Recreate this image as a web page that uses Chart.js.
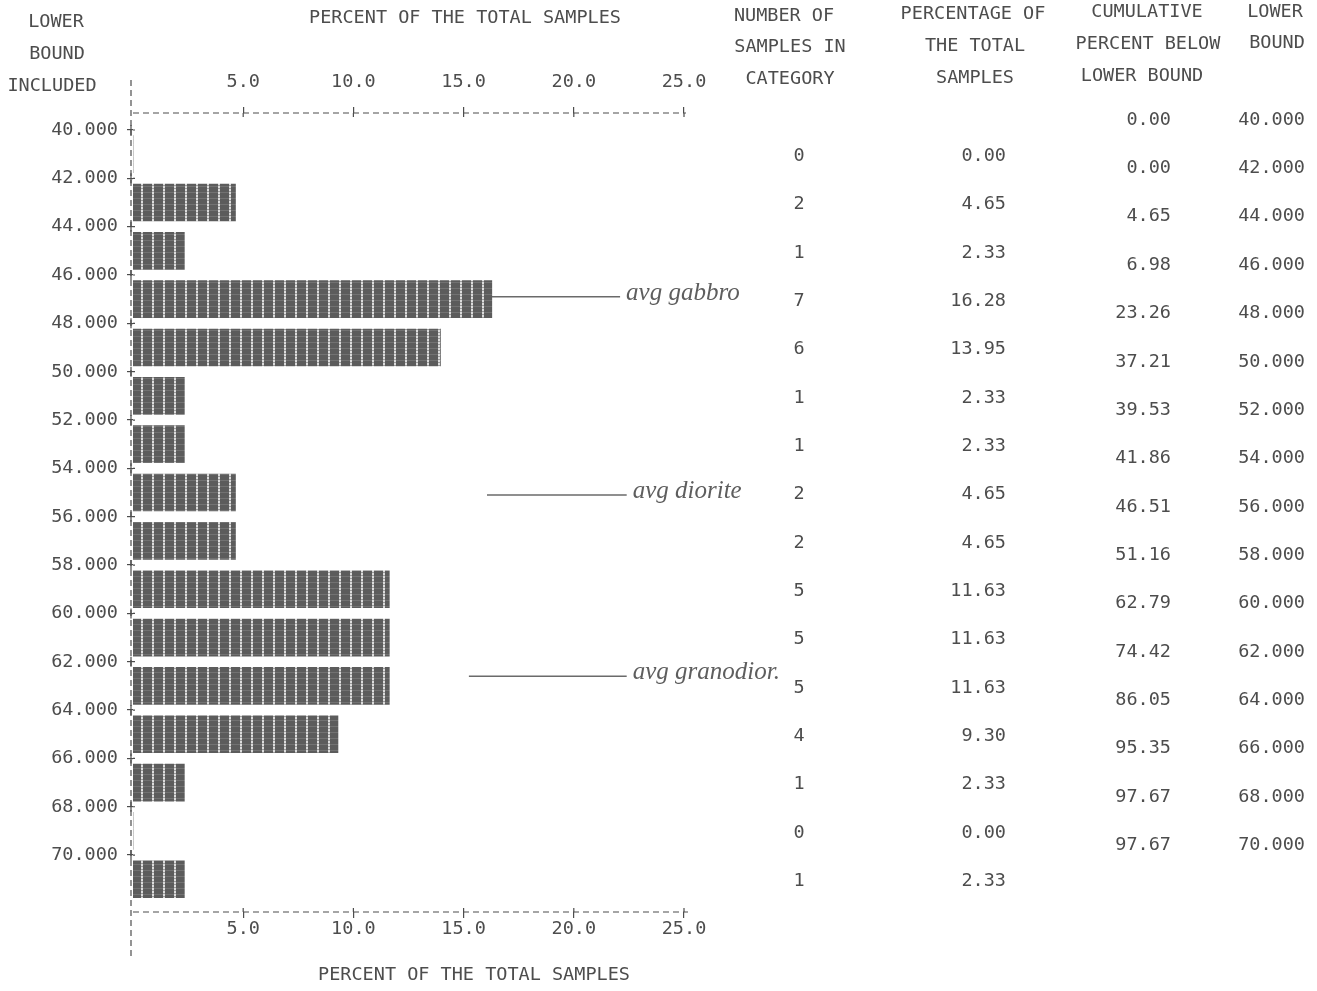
<!DOCTYPE html>
<html>
<head>
<meta charset="utf-8">
<script src="https://cdn.jsdelivr.net/npm/chart.js@4.4.1/dist/chart.umd.min.js"></script>
<style>
html,body{margin:0;padding:0;background:#ffffff;}
#wrap{width:1317px;height:991px;position:relative;}
canvas{display:block;}
</style>
</head>
<body>
<div id="wrap"><canvas id="c" width="1317" height="991"></canvas></div>
<script>
// ---------- DATA ----------
const lowerBounds      = [40, 42, 44, 46, 48, 50, 52, 54, 56, 58, 60, 62, 64, 66, 68, 70];
const sampleCounts     = [0, 2, 1, 7, 6, 1, 1, 2, 2, 5, 5, 5, 4, 1, 0, 1];
const percentOfTotal   = [0.00, 4.65, 2.33, 16.28, 13.95, 2.33, 2.33, 4.65, 4.65, 11.63, 11.63, 11.63, 9.30, 2.33, 0.00, 2.33];
const cumulativeBelow  = [0.00, 0.00, 4.65, 6.98, 23.26, 37.21, 39.53, 41.86, 46.51, 51.16, 62.79, 74.42, 86.05, 95.35, 97.67, 97.67];
const xTickValues      = [5, 10, 15, 20, 25];
const yTickValues      = [40, 42, 44, 46, 48, 50, 52, 54, 56, 58, 60, 62, 64, 66, 68, 70];
const xTitle           = 'PERCENT OF THE TOTAL SAMPLES';
const noteLabels       = ['avg gabbro', 'avg diorite', 'avg granodior.'];
const noteLevels       = [46.9, 55.1, 62.6];
const noteStarts       = [16.28, 16.06, 15.24];
const noteEnds         = [22.1, 22.4, 22.4];

// ---------- STYLE ----------
const INK = '#4d4d4d';
const MONO = '"DejaVu Sans Mono", monospace';
const FONT_PX = 18.5;

function barPattern() {
  const p = document.createElement('canvas');
  p.width = 11; p.height = 6;
  const g = p.getContext('2d');
  g.fillStyle = '#5c5c5c';
  g.fillRect(0, 0, 11, 6);
  g.fillStyle = '#727272';
  g.fillRect(0, 0, 11, 1);
  g.fillStyle = '#dcdcdc';
  g.fillRect(9, 0, 2, 2);
  g.fillRect(9, 3, 2, 2);
  g.fillStyle = '#9a9a9a';
  g.fillRect(9, 2, 2, 1);
  g.fillRect(9, 5, 2, 1);
  return g.createPattern(p, 'repeat');
}

const barData = lowerBounds.map((b, i) => ({ y: b + 1, x: percentOfTotal[i] }));
const noteDatasets = noteLabels.map((lab, i) => ({
  type: 'line',
  label: lab,
  indexAxis: 'y',
  data: [{ x: noteStarts[i], y: noteLevels[i] }, { x: noteEnds[i], y: noteLevels[i] }],
  borderColor: '#6a6a6a',
  borderWidth: 1.6,
  pointRadius: 0,
  fill: false,
  xAxisID: 'x',
  yAxisID: 'y',
  clip: false
}));

// ---------- PLUGIN: dashed axes, "+" marks, header texts, table, notes ----------
const printout = {
  id: 'printout',
  afterDraw(chart) {
    const { ctx, chartArea, scales } = chart;
    const y = scales.y;
    ctx.save();

    // dashed axis lines (printer style)
    ctx.strokeStyle = INK;
    ctx.lineWidth = 1.2;
    ctx.setLineDash([6, 4]);
    ctx.beginPath();
    ctx.moveTo(chartArea.left - 2, 80); ctx.lineTo(chartArea.left - 2, 958);
    ctx.moveTo(chartArea.left, chartArea.top); ctx.lineTo(chartArea.right + 2, chartArea.top);
    ctx.moveTo(chartArea.left, chartArea.bottom); ctx.lineTo(chartArea.right + 4, chartArea.bottom);
    ctx.stroke();
    ctx.setLineDash([]);

    // inner halves of the "+" tick marks
    ctx.beginPath();
    scales.x.ticks.forEach(t => {
      const px = scales.x.getPixelForValue(t.value);
      ctx.moveTo(px, chartArea.top); ctx.lineTo(px, chartArea.top + 4);
    });
    scales.x2.ticks.forEach(t => {
      const px = scales.x2.getPixelForValue(t.value);
      ctx.moveTo(px, chartArea.bottom); ctx.lineTo(px, chartArea.bottom - 4);
    });
    y.ticks.forEach(t => {
      const py = y.getPixelForValue(t.value);
      ctx.moveTo(chartArea.left, py); ctx.lineTo(chartArea.left + 2, py);
      ctx.moveTo(chartArea.left - 2, py - 5); ctx.lineTo(chartArea.left - 2, py + 5);
    });
    ctx.stroke();

    ctx.fillStyle = INK;
    ctx.font = FONT_PX + 'px ' + MONO;
    ctx.textBaseline = 'middle';
    const centered = (t, cx, cy) => { ctx.textAlign = 'center'; ctx.fillText(t, cx, cy); };

    // left header
    centered('LOWER', 56, 22);
    centered('BOUND', 57, 54);
    centered('INCLUDED', 52, 86);
    // axis titles
    centered(xTitle, 465, 18);
    centered(xTitle, 474, 975);
    // table headers
    centered('NUMBER OF', 784, 16);
    centered('SAMPLES IN', 790, 47);
    centered('CATEGORY', 790, 79);
    centered('PERCENTAGE OF', 973, 14);
    centered('THE TOTAL', 975, 46);
    centered('SAMPLES', 975, 78);
    centered('CUMULATIVE', 1147, 12);
    centered('PERCENT BELOW', 1148, 44);
    centered('LOWER BOUND', 1142, 76);
    centered('LOWER', 1275, 12);
    centered('BOUND', 1277, 43);

    // table rows
    lowerBounds.forEach((b, i) => {
      const pyMid = y.getPixelForValue(b + 1) + 2;
      ctx.textAlign = 'center';
      ctx.fillText(String(sampleCounts[i]), 799, pyMid);
      ctx.textAlign = 'right';
      ctx.fillText(percentOfTotal[i].toFixed(2), 1006, pyMid);
      const pyB = y.getPixelForValue(b) - 10;
      ctx.fillText(cumulativeBelow[i].toFixed(2), 1171, pyB);
      ctx.fillText(b.toFixed(3), 1305, pyB);
    });

    // handwritten notes
    ctx.fillStyle = '#5e5e5e';
    ctx.font = 'italic 25px "Liberation Serif", serif';
    ctx.textAlign = 'left';
    ctx.textBaseline = 'alphabetic';
    const xs = scales.x;
    noteLabels.forEach((lab, i) => {
      const px = xs.getPixelForValue(noteEnds[i]) + 6;
      const py = y.getPixelForValue(noteLevels[i]) + 3;
      ctx.fillText(lab, px, py);
    });
    ctx.restore();
  }
};

const tickFont = { family: MONO, size: FONT_PX };
const gridOpts = { drawOnChartArea: false, drawTicks: true, tickLength: 6, color: INK, lineWidth: 1.2, offset: false };

new Chart(document.getElementById('c').getContext('2d'), {
  type: 'bar',
  data: {
    datasets: [
      {
        type: 'bar',
        label: 'Percent of the total samples',
        data: barData,
        indexAxis: 'y',
        backgroundColor: barPattern(),
        borderWidth: 0,
        barThickness: 37,
        xAxisID: 'x',
        yAxisID: 'y'
      },
      ...noteDatasets
    ]
  },
  options: {
    indexAxis: 'y',
    responsive: false,
    animation: false,
    events: [],
    layout: { padding: { left: 0, top: 0, right: 633, bottom: 0 } },
    plugins: { legend: { display: false }, tooltip: { enabled: false }, title: { display: false } },
    scales: {
      x: {
        type: 'linear', position: 'top', min: 0, max: 25, offset: false,
        afterBuildTicks: s => { s.ticks = xTickValues.map(v => ({ value: v })); },
        afterFit: s => { s.height = 113; },
        ticks: { callback: v => Number(v).toFixed(1), font: tickFont, color: INK, padding: 14, maxRotation: 0, autoSkip: false },
        grid: gridOpts,
        border: { display: false }
      },
      x2: {
        type: 'linear', position: 'bottom', min: 0, max: 25, offset: false,
        afterBuildTicks: s => { s.ticks = xTickValues.map(v => ({ value: v })); },
        afterFit: s => { s.height = 79; },
        ticks: { callback: v => Number(v).toFixed(1), font: tickFont, color: INK, padding: 0, maxRotation: 0, autoSkip: false },
        grid: gridOpts,
        border: { display: false }
      },
      y: {
        type: 'linear', position: 'left', reverse: true, min: 39.297, max: 72.355, offset: false,
        afterBuildTicks: s => { s.ticks = yTickValues.map(v => ({ value: v })); },
        afterFit: s => { s.width = 133; },
        ticks: { callback: v => Number(v).toFixed(3), font: tickFont, color: INK, padding: 9, autoSkip: false },
        grid: gridOpts,
        border: { display: false }
      }
    }
  },
  plugins: [printout]
});
</script>
</body>
</html>
